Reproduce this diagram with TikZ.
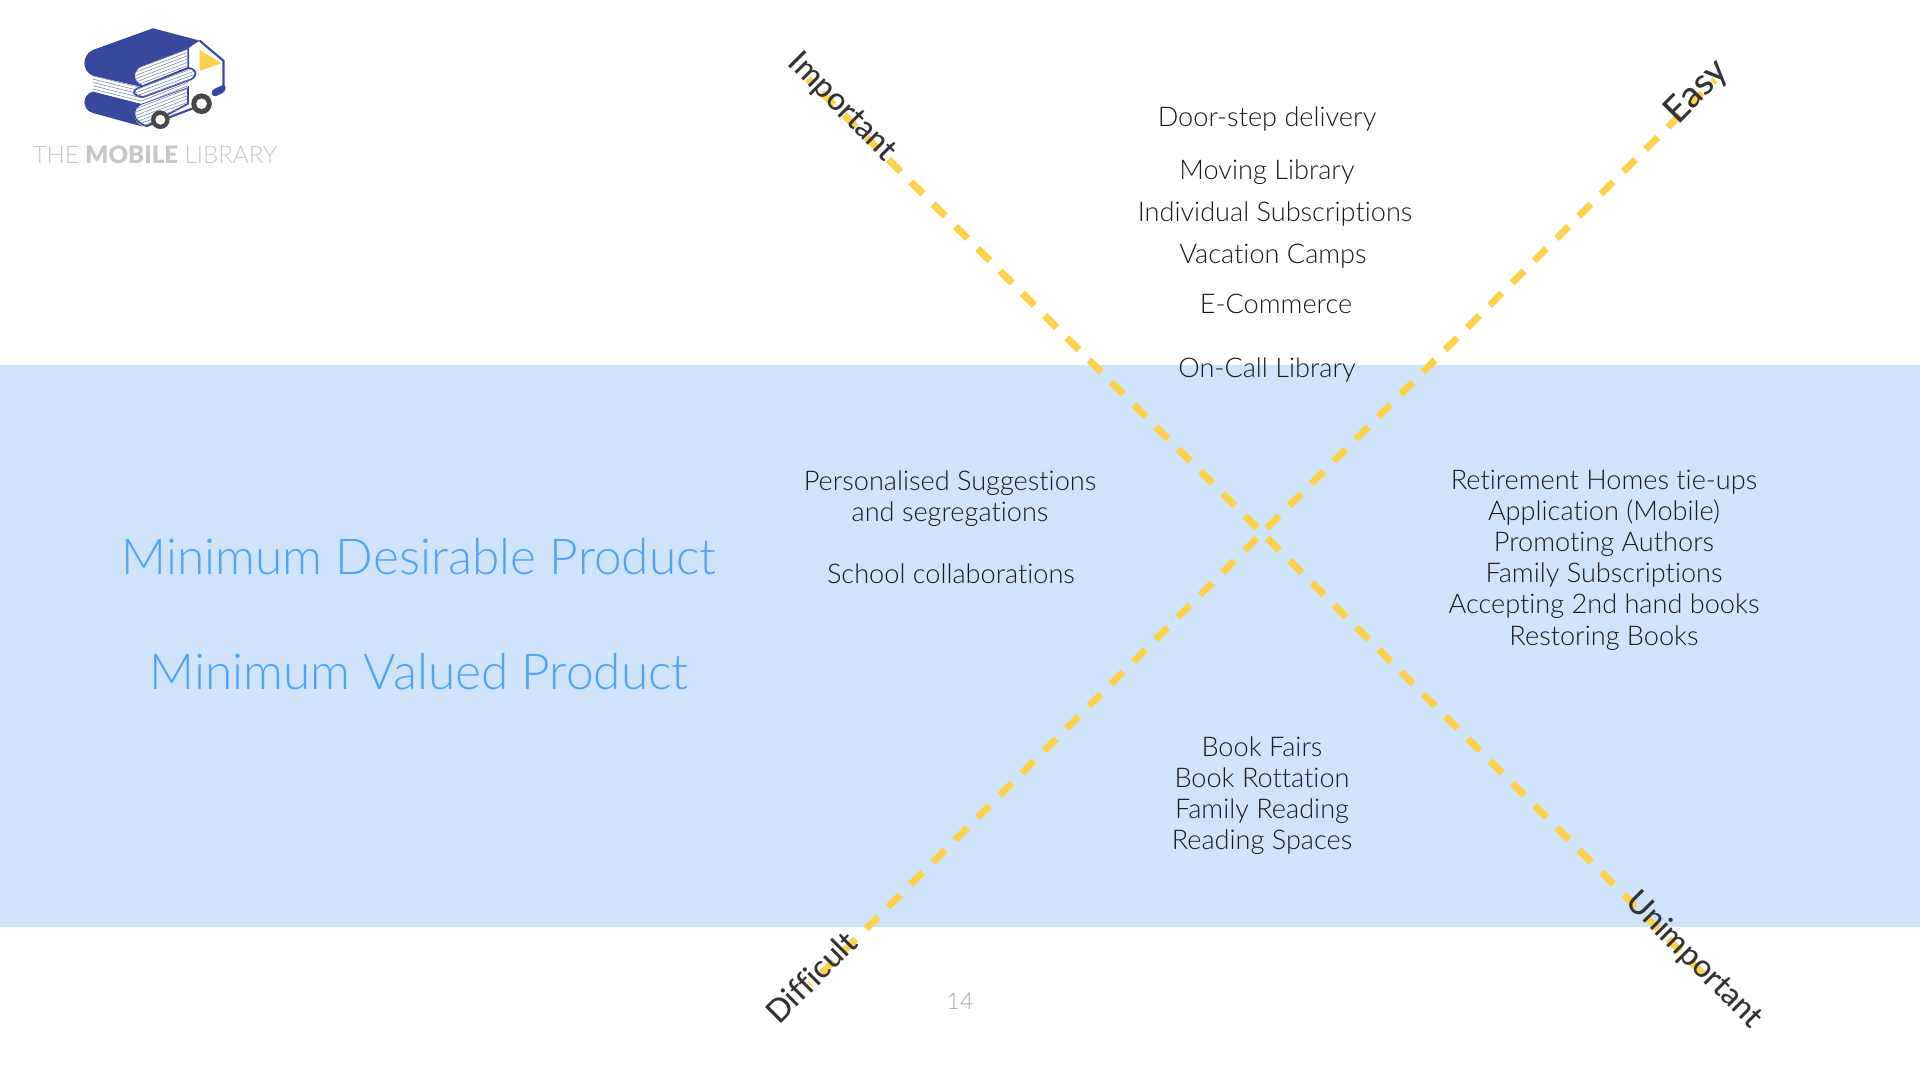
\documentclass[tikz,border=0pt]{standalone}
\usepackage{fontspec}
\setmainfont[Ligatures=NoCommon]{Lato Light}
\newfontfamily\labelfont[Ligatures=NoCommon]{Lato Medium}
\usepackage{xcolor}
\definecolor{bandblue}{HTML}{CFE4FB}
\definecolor{headblue}{HTML}{4FA3F5}
\definecolor{logoblue}{HTML}{38499D}
\definecolor{logoyellow}{HTML}{FBD04C}
\definecolor{dashyellow}{HTML}{FDD24A}
\definecolor{inkgray}{HTML}{333333}

\begin{document}
\begin{tikzpicture}[
    item/.style={text=black!90, align=center, inner sep=0pt, font=\fontsize{7.72pt}{8.87pt}\selectfont},
    headline/.style={text=headblue, inner sep=0pt, font=\fontsize{14.1pt}{16pt}\selectfont},
    axislabel/.style={text=inkgray, inner sep=0pt, font=\labelfont\fontsize{9pt}{10pt}\selectfont},
    axisline/.style={draw=dashyellow, line width=2pt},
    pages/.style={fill=white, draw=logoblue, line width=0.5pt}
]
    \useasboundingbox (0,0) rectangle (19.2,10.8);
    \fill[bandblue] (0,1.53) rectangle (19.2,7.15);

    % axis ends
    \coordinate (topleft) at (8.08,10.01);
    \coordinate (bottomright) at (17.13,0.96);
    \coordinate (topright) at (17.15,10.00);
    \coordinate (bottomleft) at (8.10,0.95);
    \draw[axisline, dash pattern=on 0.17cm off 0.145cm, dash phase=0.12cm] (topleft) -- (bottomright);
    \draw[axisline, dash pattern=on 0.17cm off 0.145cm, dash phase=0.134cm] (topright) -- (bottomleft);

    \node[axislabel, rotate=-45] (important) at (8.42,9.73) {Important};
    \node[axislabel, rotate=45, font=\labelfont\fontsize{10.4pt}{11pt}\selectfont] (easy) at (16.97,9.88) {Easy};
    \node[axislabel, rotate=-45] (unimportant) at (16.94,1.20) {Unimportant};
    \node[axislabel, rotate=45] (difficult) at (8.11,1.03) {Difficult};

    \node[headline] (desirable) at (4.19,5.23) {Minimum Desirable Product};
    \node[headline] (valued) at (4.19,4.08) {Minimum Valued Product};

    \node[item] (doorstep) at (12.67,9.61) {Door-step delivery};
    \node[item] (moving) at (12.67,9.08) {Moving Library};
    \node[item] (individual) at (12.75,8.66) {Individual Subscriptions};
    \node[item] (vacation) at (12.73,8.24) {Vacation Camps};
    \node[item] (ecommerce) at (12.76,7.76) {E-Commerce};
    \node[item] (oncall) at (12.67,7.10) {On-Call Library};

    \node[item] (personalised) at (9.50,5.81) {Personalised Suggestions\\and segregations};
    \node[item] (school) at (9.51,5.06) {School collaborations};
    \node[item] (retirement) at (16.04,5.20) {Retirement Homes tie-ups\\Application (Mobile)\\Promoting Authors\\Family Subscriptions\\Accepting 2nd hand books\\Restoring Books};
    \node[item] (fairs) at (12.62,2.845) {Book Fairs\\Book Rottation\\Family Reading\\Reading Spaces};

    \node[text=black!35, inner sep=0pt, font=\fontsize{6.6pt}{8pt}\selectfont] (pagenum) at (9.60,0.79) {14};
    \node[text=black!22, inner sep=0pt, font=\fontsize{6.85pt}{8pt}\selectfont] (brand) at (1.55,9.25) {THE {\labelfont\bfseries MOBILE} LIBRARY};

    % logo, in reference pixels
    \begin{scope}[shift={(0,10.8)}, x=0.00333cm, y=-0.00333cm]
        % van
        \fill[white] (560,125) -- (600,122) -- (672,183) -- (672,262) -- (440,380) -- (440,300) -- cycle;
        \draw[logoblue, line width=0.6pt] (600,122) -- (672,183) -- (672,258);
        \draw[logoblue, line width=0.6pt] (440,379) -- (590,322);
        \fill[logoyellow] (600,150) -- (666,190) -- (600,213) -- cycle;
        \fill[logoblue, rounded corners=1pt] (634,272) -- (678,252) -- (678,276) -- (640,293) -- cycle;
        % lower book
        \fill[logoblue] (280,275) -- (425,312) .. controls (395,325) and (395,365) .. (430,381) -- (280,340) .. controls (245,330) and (245,285) .. (280,275) -- cycle;
        \draw[pages] (425,312) -- (565,262) -- (565,312) -- (440,379) .. controls (395,365) and (395,325) .. (425,312) -- cycle;
        % middle pages
        \fill[white] (280,228) -- (425,262) -- (565,205) -- (565,262) -- (425,312) -- (280,275) -- cycle;
        % upper book
        \fill[logoblue] (460,85) -- (600,122) -- (566,145) -- (425,198) .. controls (395,210) and (395,250) .. (430,262) -- (280,228) .. controls (245,215) and (245,165) .. (280,150) -- cycle;
        \draw[pages] (425,198) -- (566,145) -- (566,204) -- (430,259) .. controls (395,250) and (395,210) .. (425,198) -- cycle;
        % page lines
        \begin{scope}
            \clip (425,198) -- (566,145) -- (566,204) -- (430,259) .. controls (395,250) and (395,210) .. (425,198) -- cycle;
            \foreach \yy in {0,10,...,110}
                \draw[logoblue!70, line width=0.15pt] (400,200+\yy) -- (570,135+\yy);
        \end{scope}
        \begin{scope}
            \clip (425,312) -- (565,262) -- (565,312) -- (440,379) .. controls (395,365) and (395,325) .. (425,312) -- cycle;
            \foreach \yy in {0,10,...,110}
                \draw[logoblue!70, line width=0.15pt] (400,310+\yy) -- (570,245+\yy);
        \end{scope}
        \begin{scope}
            \clip (280,228) -- (425,262) -- (565,205) -- (565,262) -- (425,312) -- (280,275) -- cycle;
            \foreach \yy in {0,10,...,60}
                \draw[logoblue!70, line width=0.15pt] (280,228+\yy) -- (425,264+\yy) -- (570,206+\yy);
        \end{scope}
        % middle tongue
        \draw[pages] (422,262) -- (565,205) .. controls (595,205) and (595,235) .. (565,242) -- (430,292) .. controls (395,285) and (395,272) .. (422,262) -- cycle;
        \begin{scope}
            \clip (422,262) -- (565,205) .. controls (595,205) and (595,235) .. (565,242) -- (430,292) .. controls (395,285) and (395,272) .. (422,262) -- cycle;
            \foreach \yy in {0,10,...,60}
                \draw[logoblue!70, line width=0.15pt] (400,262+\yy) -- (590,192+\yy);
        \end{scope}
        % wheels
        \fill[inkgray!90] (482,360) circle (28);
        \fill[white] (482,360) circle (15);
        \fill[inkgray!90] (606,312) circle (31);
        \fill[white] (606,312) circle (16);
    \end{scope}
\end{tikzpicture}
\end{document}
